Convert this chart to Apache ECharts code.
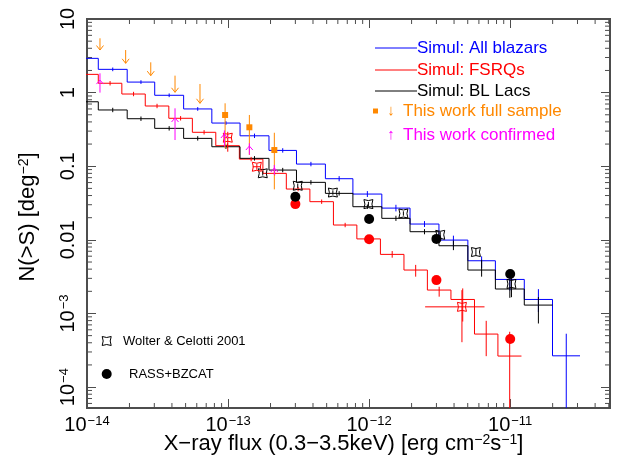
<!DOCTYPE html>
<html>
<head>
<meta charset="utf-8">
<script src="https://cdn.jsdelivr.net/npm/echarts@6/dist/echarts.min.js"></script>
<style>
  html, body { margin: 0; padding: 0; background: #fff; }
  #chart { width: 624px; height: 465px; }
</style>
</head>
<body>
<div id="chart"></div>
<script>
// simulated N(>S) histograms: bin edges are log10(flux), errors are in dex
const allEdges = [-14.12, -13.92, -13.715, -13.52, -13.315, -13.115, -12.915, -12.71, -12.515, -12.31, -12.115, -11.91, -11.71, -11.505, -11.30, -11.105, -10.90, -10.70, -10.505]
const allValues = [2.92, 2.07, 1.39, 0.92, 0.60, 0.386, 0.259, 0.164, 0.107, 0.0677, 0.0419, 0.0270, 0.0164, 0.00993, 0.0052, 0.0029, 0.00155, 0.000266]
const allErrUp = [0.025, 0.025, 0.025, 0.025, 0.025, 0.025, 0.03, 0.03, 0.03, 0.035, 0.04, 0.045, 0.04, 0.06, 0.06, 0.07, 0.14, 0.3]
const allErrDown = [0.025, 0.025, 0.025, 0.025, 0.025, 0.025, 0.03, 0.03, 0.03, 0.035, 0.04, 0.045, 0.04, 0.09, 0.1, 0.15, 0.17, 9]

const fsrqEdges = [-14.087, -13.92, -13.753, -13.587, -13.42, -13.253, -13.087, -12.92, -12.753, -12.587, -12.42, -12.253, -12.087, -11.92, -11.753, -11.587, -11.42, -11.253, -11.087, -10.92]
const fsrqValues = [1.77, 1.34, 0.957, 0.658, 0.448, 0.289, 0.190, 0.125, 0.080, 0.049, 0.033, 0.0159, 0.0103, 0.00635, 0.00389, 0.00208, 0.00155, 0.000525, 0.000264]
const fsrqErrUp = [0.03, 0.03, 0.03, 0.03, 0.03, 0.03, 0.03, 0.03, 0.03, 0.03, 0.03, 0.03, 0.035, 0.045, 0.07, 0.045, 0.15, 0.18, 0.33]
const fsrqErrDown = [0.03, 0.03, 0.03, 0.03, 0.03, 0.03, 0.03, 0.03, 0.03, 0.03, 0.03, 0.03, 0.035, 0.045, 0.09, 0.09, 0.3, 0.3, 9]

const bllEdges = [-14.12, -13.92, -13.715, -13.52, -13.315, -13.115, -12.915, -12.71, -12.515, -12.31, -12.115, -11.91, -11.71, -11.505, -11.30, -11.105, -10.90, -10.70]
const bllValues = [0.751, 0.581, 0.442, 0.327, 0.239, 0.184, 0.128, 0.0887, 0.0604, 0.0428, 0.0282, 0.0196, 0.0129, 0.00832, 0.00389, 0.00215, 0.0013]
const bllErrUp = [0.03, 0.03, 0.03, 0.03, 0.03, 0.03, 0.03, 0.03, 0.03, 0.03, 0.03, 0.035, 0.035, 0.07, 0.14, 0.13, 0.11]
const bllErrDown = [0.03, 0.03, 0.03, 0.03, 0.03, 0.03, 0.03, 0.03, 0.03, 0.03, 0.03, 0.035, 0.035, 0.06, 0.09, 0.12, 0.25]

// Wolter & Celotti 2001 (log10 flux, N, errors in dex)
const wcBllX = [-12.754, -12.506, -12.257, -12.005, -11.757, -11.496, -11.243, -10.991]
const wcBllY = [0.0802, 0.0543, 0.0439, 0.0306, 0.0228, 0.0117, 0.00683, 0.00252]
const wcBllUp = [0.03, 0.03, 0.03, 0.03, 0.03, 0.04, 0.05, 0.08]
const wcBllDown = [0.03, 0.03, 0.03, 0.03, 0.03, 0.04, 0.05, 0.18]
const wcFsrqX = [-13.002, -12.796, -11.342]
const wcFsrqY = [0.244, 0.0984, 0.00123]
const wcFsrqUp = [0.08, 0.04, 0.227]
const wcFsrqDown = [0.19, 0.04, 0.48]
const wcFsrqLeft = [0.03, 0.03, 0.261]
const wcFsrqRight = [0.03, 0.03, 0.16]

// RASS+BZCAT
const rassX = [3e-13, 1e-12, 3e-12, 1e-11]
const rassBll = [0.0386, 0.0192, 0.0103, 0.00343]
const rassFsrq = [0.0306, 0.0102, 0.00284, 0.000449]

// this work
const fullUlX = [-13.908, -13.726, -13.548, -13.376, -13.199]
const fullUlTop = [5.47, 3.79, 2.58, 1.70, 1.31]
const fullUlTip = [3.79, 2.50, 1.70, 1.01, 0.716]
const fullX = [-13.021, -12.849, -12.672]
const fullY = [0.497, 0.338, 0.166]
const fullLo = [0.175, 0.142, 0.0485]
const fullHi = [0.716, 0.497, 0.285]
const confX = [-13.908, -13.376, -13.026, -12.849, -12.672]
const confY = [1.48, 0.452, 0.274, 0.188, 0.0947]
const confLo = [1.0, 0.227, 0.185, 0.144, 0.076]
const confHi = [1.83, 0.612, 0.306, 0.205, 0.104]

const xDecades = [-14, -13, -12, -11]
const yDecades = [-5, -4, -3, -2, -1, 0]
const minorMult = [2, 3, 4, 5, 6, 7, 8, 9]
const yLabels = { '1': '10', '0': '1', '-1': '0.1', '-2': '0.01' }

const xMin = 1e-14
const xMax = 5.1e-11
const yMin = 5.2e-5
const yMax = 10

const BLUE = '#0000ff'
const RED = '#ff0000'
const BLACK = '#000000'
const ORANGE = '#ff8800'
const MAGENTA = '#ff00ff'
const FRAME = '#4d4d4d'
const FONT = '"Liberation Sans", Arial, sans-serif'

const p10 = e => Math.pow(10, e)

function stepData (edges, values) {
  const pts = values.map((v, i) => [p10(edges[i]), v])
  pts.push([p10(edges[edges.length - 1]), values[values.length - 1]])
  return pts
}

function binBars (edges, values, up, down) {
  return values.map((v, i) => {
    const x = p10((edges[i] + edges[i + 1]) / 2)
    return [x, v, v / p10(down[i]), v * p10(up[i]), x, x]
  })
}

function pointBars (xs, ys, up, down, left, right) {
  return xs.map((e, i) => [p10(e), ys[i], ys[i] / p10(down[i]), ys[i] * p10(up[i]),
    p10(e - (left ? left[i] : 0)), p10(e + (right ? right[i] : 0))])
}

function errorBarItem (color) {
  return function (params, api) {
    const c = api.coord([api.value(0), api.value(1)])
    const lo = api.coord([api.value(0), api.value(2)])
    const hi = api.coord([api.value(0), api.value(3)])
    const xl = api.coord([api.value(4), api.value(1)])
    const xr = api.coord([api.value(5), api.value(1)])
    const style = { stroke: color, lineWidth: 1 }
    const children = [{ type: 'line', shape: { x1: c[0], y1: lo[1], x2: c[0], y2: hi[1] }, style }]
    if (xr[0] - xl[0] > 0.5) {
      children.push({ type: 'line', shape: { x1: xl[0], y1: c[1], x2: xr[0], y2: c[1] }, style })
    }
    return { type: 'group', children }
  }
}

function histSeries (edges, values, color) {
  return {
    type: 'line',
    step: 'end',
    data: stepData(edges, values),
    showSymbol: false,
    symbol: 'none',
    lineStyle: { color, width: 1 },
    clip: true,
    z: 2
  }
}

function barSeries (data, color, z) {
  return {
    type: 'custom',
    data,
    encode: { x: 0, y: 1 },
    renderItem: errorBarItem(color),
    clip: true,
    silent: true,
    z: z || 3
  }
}

const wcPath = 'path://M0,0 Q5,2.2 10,0 Q7.8,5 10,10 Q5,7.8 0,10 Q2.2,5 0,0 Z'

const xMinor = []
xDecades.forEach(d => minorMult.forEach(m => { const v = m * p10(d); if (v > xMin && v < xMax) xMinor.push([v, 1]) }))
const yMinor = []
yDecades.forEach(d => minorMult.forEach(m => { const v = m * p10(d); if (v > yMin && v < yMax) yMinor.push([1e-13, v]) }))

const supRich = {
  b: { fontSize: 20, fontFamily: FONT, color: '#000' },
  s: { fontSize: 13, fontFamily: FONT, color: '#000', verticalAlign: 'top', padding: [0, 0, 0, 1] }
}

function xLabel (v) {
  const e = Math.round(Math.log10(v))
  return '{b|10}{s|' + String(e).replace('-', '\u2212') + '}'
}
function yLabel (v) {
  const e = Math.round(Math.log10(v))
  if (yLabels[e] !== undefined) return '{b|' + yLabels[e] + '}'
  return '{b|10}{s|' + String(e).replace('-', '\u2212') + '}'
}

const axisCommon = {
  type: 'log',
  logBase: 10,
  splitLine: { show: false },
  axisLine: { show: false },
  axisTick: { show: true, inside: true, length: 9, lineStyle: { color: FRAME, width: 1 } },
  minorTick: { show: false }
}

const wcLegend = [[0, 0], [4.5, 1], [9, 0], [8, 4.5], [9, 9], [4.5, 8], [0, 9], [1, 4.5]]

const option = {
  animation: false,
  backgroundColor: '#fff',
  grid: { left: 87, right: 14, top: 19, bottom: 57, show: true, borderColor: FRAME, borderWidth: 2, backgroundColor: 'transparent' },
  xAxis: [
    Object.assign({}, axisCommon, {
      min: xMin,
      max: xMax,
      position: 'bottom',
      axisLabel: { formatter: xLabel, rich: supRich, margin: 7, showMaxLabel: false, showMinLabel: true },
      name: 'X\u2212ray flux (0.3\u22123.5keV) [erg cm{s|\u22122}s{s|\u22121}]',
      nameLocation: 'middle',
      nameGap: 25,
      nameMoveOverlap: false,
      nameTextStyle: {
        fontSize: 22,
        fontFamily: FONT,
        color: '#000',
        padding: [0, 10, 0, 0],
        rich: { s: { fontSize: 14, fontFamily: FONT, color: '#000', verticalAlign: 'top' } }
      }
    }),
    Object.assign({}, axisCommon, { min: xMin, max: xMax, position: 'top', axisLabel: { show: false } })
  ],
  yAxis: [
    Object.assign({}, axisCommon, {
      min: yMin,
      max: yMax,
      position: 'left',
      axisLabel: { formatter: yLabel, rich: supRich, rotate: 90, margin: 9, showMinLabel: false },
      name: 'N(>S) [deg{s|\u22122}]',
      nameLocation: 'middle',
      nameRotate: 90,
      nameGap: 48,
      nameMoveOverlap: false,
      nameTextStyle: {
        fontSize: 22,
        fontFamily: FONT,
        color: '#000',
        padding: [0, 7, 0, 0],
        rich: { s: { fontSize: 14, fontFamily: FONT, color: '#000', verticalAlign: 'top' } }
      }
    }),
    Object.assign({}, axisCommon, { min: yMin, max: yMax, position: 'right', axisLabel: { show: false } })
  ],
  series: [
    // minor log ticks on all four sides
    {
      type: 'custom',
      data: xMinor,
      encode: { x: 0, y: 1 },
      silent: true,
      renderItem: (params, api) => {
        const cs = params.coordSys
        const px = api.coord([api.value(0), api.value(1)])[0]
        const style = { stroke: FRAME, lineWidth: 1 }
        return {
          type: 'group',
          children: [
            { type: 'line', shape: { x1: px, y1: cs.y + cs.height, x2: px, y2: cs.y + cs.height - 5 }, style },
            { type: 'line', shape: { x1: px, y1: cs.y, x2: px, y2: cs.y + 5 }, style }
          ]
        }
      }
    },
    {
      type: 'custom',
      data: yMinor,
      encode: { x: 0, y: 1 },
      silent: true,
      renderItem: (params, api) => {
        const cs = params.coordSys
        const py = api.coord([api.value(0), api.value(1)])[1]
        const style = { stroke: FRAME, lineWidth: 1 }
        return {
          type: 'group',
          children: [
            { type: 'line', shape: { x1: cs.x, y1: py, x2: cs.x + 5, y2: py }, style },
            { type: 'line', shape: { x1: cs.x + cs.width, y1: py, x2: cs.x + cs.width - 5, y2: py }, style }
          ]
        }
      }
    },
    histSeries(allEdges, allValues, BLUE),
    histSeries(fsrqEdges, fsrqValues, RED),
    histSeries(bllEdges, bllValues, BLACK),
    barSeries(binBars(allEdges, allValues, allErrUp, allErrDown), BLUE),
    barSeries(binBars(fsrqEdges, fsrqValues, fsrqErrUp, fsrqErrDown), RED),
    barSeries(binBars(bllEdges, bllValues, bllErrUp, bllErrDown), BLACK),
    // Wolter & Celotti 2001
    barSeries(pointBars(wcBllX, wcBllY, wcBllUp, wcBllDown), BLACK),
    barSeries(pointBars(wcFsrqX, wcFsrqY, wcFsrqUp, wcFsrqDown, wcFsrqLeft, wcFsrqRight), RED),
    {
      type: 'scatter',
      data: wcBllX.map((e, i) => [p10(e), wcBllY[i]]),
      symbol: wcPath,
      symbolSize: 9,
      itemStyle: { color: 'rgba(255,255,255,0)', borderColor: BLACK, borderWidth: 1, opacity: 1 },
      z: 4
    },
    {
      type: 'scatter',
      data: wcFsrqX.map((e, i) => [p10(e), wcFsrqY[i]]),
      symbol: wcPath,
      symbolSize: 9,
      itemStyle: { color: 'rgba(255,255,255,0)', borderColor: RED, borderWidth: 1, opacity: 1 },
      z: 4
    },
    // RASS+BZCAT
    {
      type: 'scatter',
      data: rassX.map((x, i) => [x, rassFsrq[i]]),
      symbol: 'circle',
      symbolSize: 10,
      itemStyle: { color: RED, opacity: 1 },
      z: 5
    },
    {
      type: 'scatter',
      data: rassX.map((x, i) => [x, rassBll[i]]),
      symbol: 'circle',
      symbolSize: 10,
      itemStyle: { color: BLACK, opacity: 1 },
      z: 5
    },
    // this work: full sample upper limits
    {
      type: 'custom',
      data: fullUlX.map((e, i) => [p10(e), fullUlTop[i], fullUlTip[i]]),
      encode: { x: 0, y: 1 },
      silent: true,
      z: 6,
      renderItem: (params, api) => {
        const top = api.coord([api.value(0), api.value(1)])
        const tip = api.coord([api.value(0), api.value(2)])
        const style = { stroke: ORANGE, lineWidth: 1, fill: null }
        return {
          type: 'group',
          children: [
            { type: 'line', shape: { x1: top[0], y1: top[1], x2: tip[0], y2: tip[1] }, style },
            { type: 'polyline', shape: { points: [[tip[0] - 3.5, tip[1] - 4.5], [tip[0], tip[1]], [tip[0] + 3.5, tip[1] - 4.5]] }, style }
          ]
        }
      }
    },
    barSeries(fullX.map((e, i) => [p10(e), fullY[i], fullLo[i], fullHi[i], p10(e), p10(e)]), ORANGE, 6),
    {
      type: 'scatter',
      data: fullX.map((e, i) => [p10(e), fullY[i]]),
      symbol: 'rect',
      symbolSize: 6,
      itemStyle: { color: ORANGE, opacity: 1 },
      z: 6
    },
    // this work: confirmed
    {
      type: 'custom',
      data: confX.map((e, i) => [p10(e), confY[i], confLo[i], confHi[i]]),
      encode: { x: 0, y: 1 },
      silent: true,
      z: 7,
      renderItem: (params, api) => {
        const c = api.coord([api.value(0), api.value(1)])
        const lo = api.coord([api.value(0), api.value(2)])
        const hi = api.coord([api.value(0), api.value(3)])
        const style = { stroke: MAGENTA, lineWidth: 1, fill: null }
        return {
          type: 'group',
          children: [
            { type: 'line', shape: { x1: c[0], y1: lo[1], x2: c[0], y2: hi[1] }, style },
            { type: 'polyline', shape: { points: [[c[0] - 3.5, c[1] + 4], [c[0], c[1]], [c[0] + 3.5, c[1] + 4]] }, style }
          ]
        }
      }
    }
  ],
  graphic: [
    { type: 'line', shape: { x1: 375, y1: 48, x2: 417, y2: 48 }, style: { stroke: BLUE, lineWidth: 1 } },
    { type: 'text', x: 417, y: 48, style: { text: 'Simul: All blazars', fill: BLUE, fontSize: 17, fontFamily: FONT, verticalAlign: 'middle' } },
    { type: 'line', shape: { x1: 375, y1: 70, x2: 417, y2: 70 }, style: { stroke: RED, lineWidth: 1 } },
    { type: 'text', x: 417, y: 70, style: { text: 'Simul: FSRQs', fill: RED, fontSize: 17, fontFamily: FONT, verticalAlign: 'middle' } },
    { type: 'line', shape: { x1: 375, y1: 91, x2: 417, y2: 91 }, style: { stroke: BLACK, lineWidth: 1 } },
    { type: 'text', x: 417, y: 91, style: { text: 'Simul: BL Lacs', fill: BLACK, fontSize: 17, fontFamily: FONT, verticalAlign: 'middle' } },
    { type: 'rect', shape: { x: 373, y: 108.5, width: 5, height: 5 }, style: { fill: ORANGE } },
    { type: 'text', x: 391, y: 111, style: { text: '\u2193', fill: ORANGE, fontSize: 15, fontFamily: FONT, align: 'center', verticalAlign: 'middle' } },
    { type: 'text', x: 403, y: 111, style: { text: 'This work full sample', fill: ORANGE, fontSize: 17, fontFamily: FONT, verticalAlign: 'middle' } },
    { type: 'text', x: 391, y: 135, style: { text: '\u2191', fill: MAGENTA, fontSize: 15, fontFamily: FONT, align: 'center', verticalAlign: 'middle' } },
    { type: 'text', x: 403, y: 135, style: { text: 'This work confirmed', fill: MAGENTA, fontSize: 17, fontFamily: FONT, verticalAlign: 'middle' } },
    { type: 'polygon', x: 102.2, y: 336.5, shape: { points: wcLegend }, style: { fill: 'none', stroke: BLACK, lineWidth: 1 } },
    { type: 'text', x: 123, y: 341, style: { text: 'Wolter & Celotti 2001', fill: BLACK, fontSize: 13, fontFamily: FONT, verticalAlign: 'middle' } },
    { type: 'circle', shape: { cx: 106.7, cy: 374, r: 5 }, style: { fill: BLACK } },
    { type: 'text', x: 129, y: 374, style: { text: 'RASS+BZCAT', fill: BLACK, fontSize: 13, fontFamily: FONT, verticalAlign: 'middle' } }
  ]
}

const chart = echarts.init(document.getElementById('chart'), null, { renderer: 'canvas' })
chart.setOption(option)
window.addEventListener('resize', () => chart.resize())
</script>
</body>
</html>
